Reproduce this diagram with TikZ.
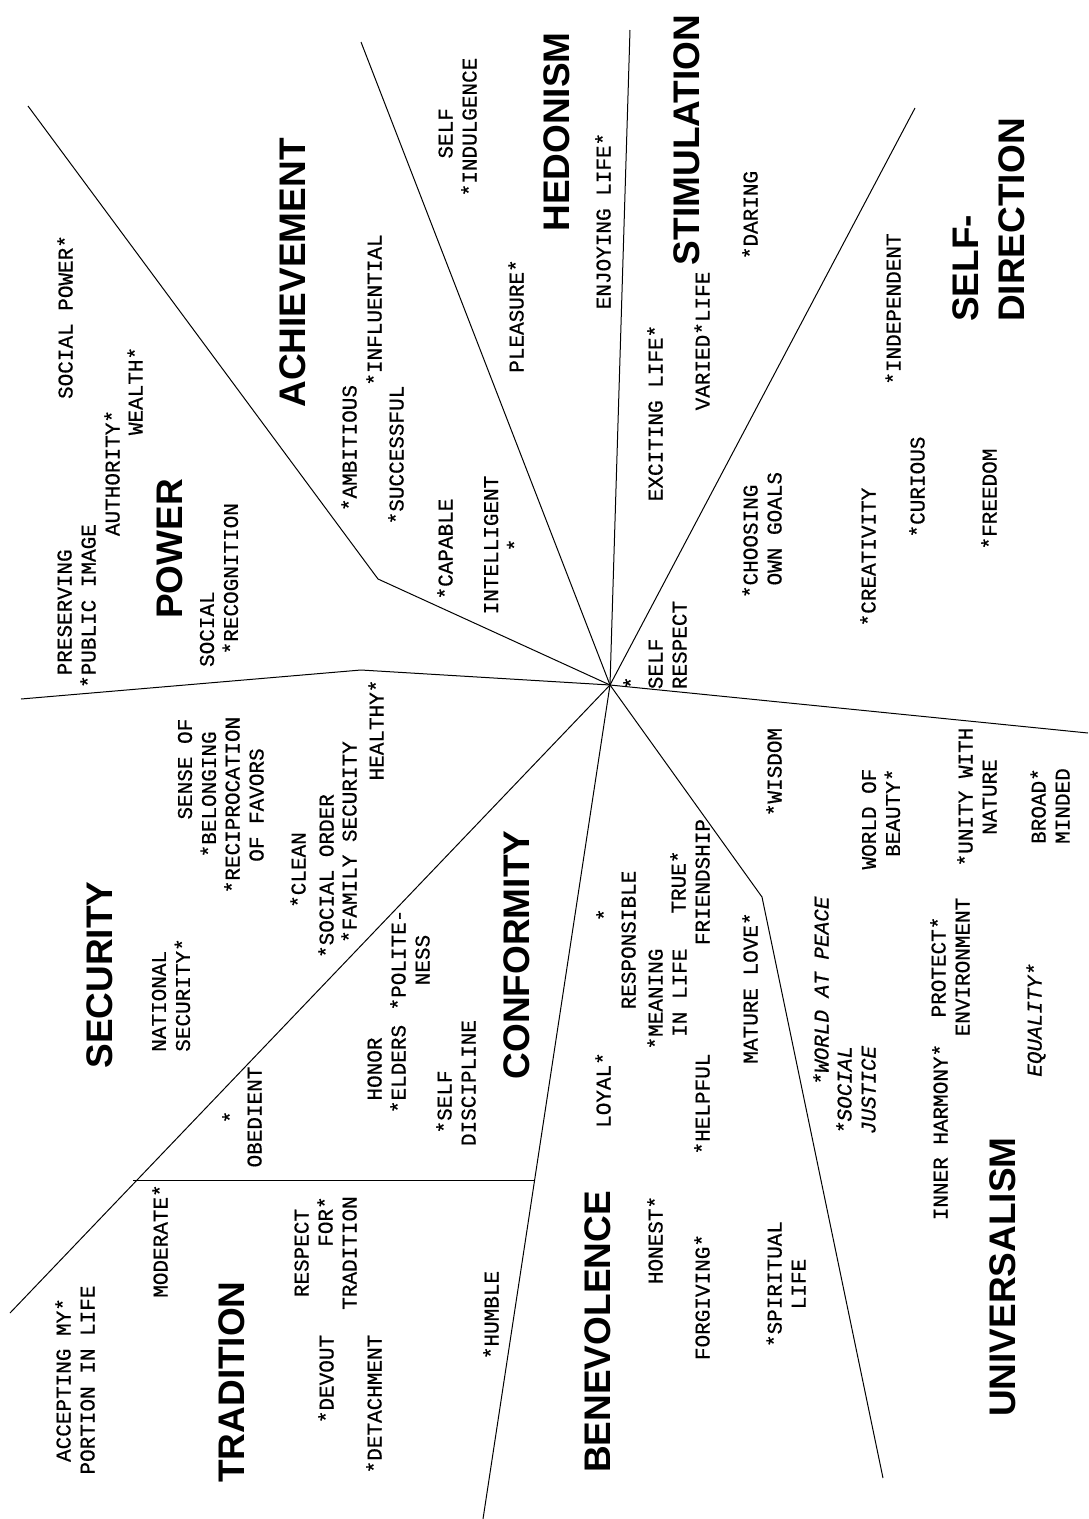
\documentclass[tikz,border=0pt]{standalone}
\usepackage{fontspec}
\newfontfamily\valfont[FakeBold=0.6]{Liberation Mono}
\newfontfamily\catfont{Liberation Sans}

\begin{document}
\begin{tikzpicture}[x=1pt, y=-1pt,
    val/.style={rotate=90, inner sep=0pt, align=center,
        font=\valfont\fontsize{21}{24}\selectfont},
    valit/.style={val, font=\valfont\itshape\fontsize{21}{24}\selectfont},
    cat/.style={rotate=90, inner sep=0pt, align=left,
        font=\catfont\bfseries\fontsize{37}{46}\selectfont},
    border/.style={line width=1pt}]
    \useasboundingbox (0,0) rectangle (1088,1519);

    %boundaries
    \coordinate (c) at (610,685);
    \draw[border] (28,106) -- (378,579) -- (c);
    \draw[border] (361,42) -- (c);
    \draw[border] (630,30) -- (c);
    \draw[border] (915,108) -- (c);
    \draw[border] (c) -- (1088,733);
    \draw[border] (c) -- (762,897) -- (883,1478);
    \draw[border] (c) -- (483,1519);
    \draw[border] (c) -- (10,1313);
    \draw[border] (c) -- (361,670) -- (21,699);
    \draw[border] (133,1180) -- (535,1180);

    %types
    \node[cat] (power) at (170,549) {POWER};
    \node[cat] (achievement) at (293,273) {ACHIEVEMENT};
    \node[cat] (hedonism) at (557,132) {HEDONISM};
    \node[cat] (stimulation) at (687,140) {STIMULATION};
    \node[cat] (selfdir) at (989,220) {SELF-\\DIRECTION};
    \node[cat] (security) at (100,975) {SECURITY};
    \node[cat] (conformity) at (517,955) {CONFORMITY};
    \node[cat] (tradition) at (232,1382) {TRADITION};
    \node[cat] (benevolence) at (598,1332) {BENEVOLENCE};
    \node[cat] (universalism) at (1003,1277) {UNIVERSALISM};

    %power
    \node[val] (socpower) at (65,317) {SOCIAL POWER*};
    \node[val] (authority) at (112,473) {AUTHORITY*};
    \node[val] (wealth) at (135,391) {WEALTH*};
    \node[val, align=left] (pubimage) at (76,606) {\phantom{*}PRESERVING\\*PUBLIC IMAGE};
    \node[val, align=left] (recognition) at (219,585) {SOCIAL\\\phantom{*}*RECOGNITION};

    %achievement
    \node[val] (ambitious) at (349,448) {*AMBITIOUS};
    \node[val] (influential) at (374,310) {*INFLUENTIAL};
    \node[val] (successful) at (396,455) {*SUCCESSFUL};
    \node[val] (capable) at (445,549) {*CAPABLE};
    \node[val] (intelligent) at (503,545) {INTELLIGENT\\*};

    %hedonism
    \node[val, align=left] (indulgence) at (457,127) {\phantom{***}SELF\\*INDULGENCE};
    \node[val] (pleasure) at (516,316) {PLEASURE*};
    \node[val] (enjoying) at (603,221) {ENJOYING LIFE*};

    %stimulation
    \node[val] (exciting) at (655,413) {EXCITING LIFE*};
    \node[val] (varied) at (702,341) {VARIED*LIFE};
    \node[val] (daring) at (750,215) {*DARING};

    %self-direction
    \node[val, align=left] (selfrespect) at (655,645) {*\\SELF\\RESPECT};
    \node[val, align=left] (goals) at (762,535) {*CHOOSING\\\phantom{*}OWN GOALS};
    \node[val] (creativity) at (868,557) {*CREATIVITY};
    \node[val] (curious) at (917,487) {*CURIOUS};
    \node[val] (independent) at (893,309) {*INDEPENDENT};
    \node[val] (freedom) at (989,499) {*FREEDOM};

    %universalism
    \node[val] (wisdom) at (774,772) {*WISDOM};
    \node[val, align=right] (beauty) at (881,819) {WORLD OF\\BEAUTY*};
    \node[val] (unity) at (977,797) {*UNITY WITH\\NATURE};
    \node[val] (broad) at (1050,806) {BROAD*\\MINDED};
    \node[valit] (peace) at (821,991) {*WORLD AT PEACE};
    \node[valit, align=left] (justice) at (856,1090) {*SOCIAL\\JUSTICE};
    \node[val] (environment) at (950,967) {PROTECT*\\ENVIRONMENT};
    \node[val] (harmony) at (940,1132) {INNER HARMONY*};
    \node[valit] (equality) at (1036,1020) {EQUALITY*};

    %benevolence
    \node[val] (loyal) at (603,1090) {LOYAL*};
    \node[val, align=right] (responsible) at (616,940) {*\phantom{***}\\RESPONSIBLE};
    \node[val, align=left] (meaning) at (667,999) {*MEANING\\\phantom{*}IN LIFE};
    \node[val] (friendship) at (690,882) {TRUE*\\FRIENDSHIP};
    \node[val] (mature) at (750,988) {MATURE LOVE*};
    \node[val] (helpful) at (702,1104) {*HELPFUL};
    \node[val] (honest) at (655,1240) {HONEST*};
    \node[val] (forgiving) at (702,1297) {FORGIVING*};
    \node[val] (spiritual) at (786,1284) {*SPIRITUAL\\LIFE};

    %conformity
    \node[val] (politeness) at (410,960) {*POLITE-\\NESS};
    \node[val, align=left] (elders) at (386,1069) {\phantom{*}HONOR\\*ELDERS};
    \node[val, align=left] (discipline) at (456,1083) {\phantom{*}*SELF\\DISCIPLINE};
    \node[val] (obedient) at (242,1117) {*\\OBEDIENT};

    %security
    \node[val, align=right] (belonging) at (197,788) {SENSE OF\\*BELONGING\phantom{*}};
    \node[val] (favors) at (244,805) {*RECIPROCATION\\OF FAVORS};
    \node[val, align=left] (natsec) at (171,995) {NATIONAL\\SECURITY*};
    \node[val] (clean) at (298,870) {*CLEAN};
    \node[val] (order) at (326,876) {*SOCIAL ORDER};
    \node[val] (family) at (349,842) {*FAMILY SECURITY};
    \node[val] (healthy) at (376,730) {HEALTHY*};

    %tradition
    \node[val] (accepting) at (75,1380) {ACCEPTING MY*\\PORTION IN LIFE};
    \node[val] (moderate) at (160,1241) {MODERATE*};
    \node[val, align=right] (respect) at (325,1253) {RESPECT\phantom{*}\\FOR*\\TRADITION};
    \node[val] (devout) at (326,1379) {*DEVOUT};
    \node[val] (detachment) at (374,1404) {*DETACHMENT};
    \node[val] (humble) at (491,1315) {*HUMBLE};
\end{tikzpicture}
\end{document}
